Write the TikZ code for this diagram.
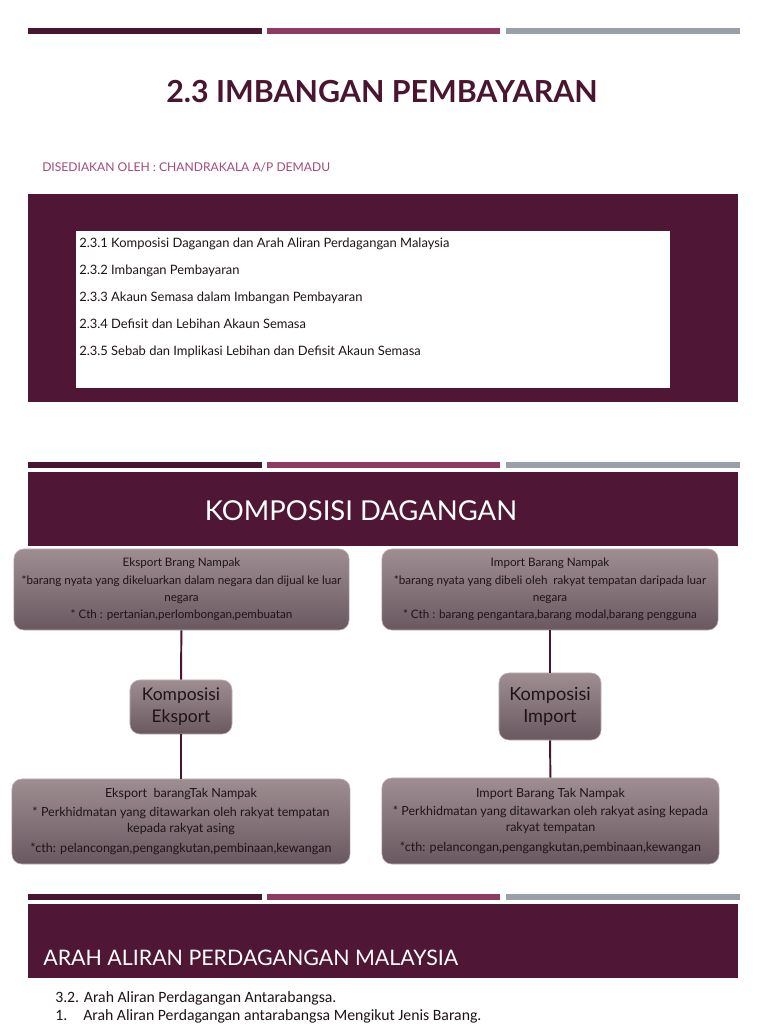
\documentclass[tikz,border=0pt]{standalone}
\usepackage{fontspec}
\setmainfont{Lato}
\newfontfamily\bodyfont{Carlito}
\usetikzlibrary{positioning}
\definecolor{plum}{HTML}{4F1635}
\definecolor{plumdk}{HTML}{4A1530}
\definecolor{rose}{HTML}{8E3A63}
\definecolor{slate}{HTML}{9AA0A8}
\definecolor{pinktext}{HTML}{A54A75}
\definecolor{boxtop}{HTML}{9E8E92}
\definecolor{boxbot}{HTML}{6A5860}
\definecolor{ink}{HTML}{1E1418}

\begin{document}
\begin{tikzpicture}[x=0.025cm, y=-0.025cm,
  bar/.style={line width=3.6pt},
  kbox/.style={rounded corners=7pt, top color=boxtop, bottom color=boxbot,
               draw=boxtop!70!white, line width=0.4pt, text=ink, align=center,
               inner sep=2pt, font=\fontsize{8.3}{12.3}\selectfont},
  link/.style={draw=plumdk, line width=1.4pt}]

\useasboundingbox[fill=white] (0,0) rectangle (768,1024);

% =========== SLIDE 1 ===========
\draw[bar, plumdk] (28,31) -- (262,31);
\draw[bar, rose]   (267,31) -- (500,31);
\draw[bar, slate]  (506,31) -- (740,31);

\node[font=\fontsize{21.6}{24}\selectfont\bfseries, text=plumdk] (title) at (382,92)
  {2.3 IMBANGAN PEMBAYARAN};
\node[anchor=west, font=\fontsize{8.6}{10}\selectfont, text=pinktext, inner sep=0pt] (author)
  at (42,167) {DISEDIAKAN OLEH : CHANDRAKALA A/P DEMADU};

\fill[plum] (28,194) rectangle (738,402);
\fill[white] (76,231) rectangle (670,388);
\node[anchor=north west, align=left, text=ink, inner sep=0pt,
      font=\fontsize{9.2}{19.2}\selectfont] (toc) at (79,238)
  {2.3.1 Komposisi Dagangan dan Arah Aliran Perdagangan Malaysia\\
   2.3.2 Imbangan Pembayaran\\
   2.3.3 Akaun Semasa dalam Imbangan Pembayaran\\
   2.3.4 Defisit dan Lebihan Akaun Semasa\\
   2.3.5 Sebab dan Implikasi Lebihan dan Defisit Akaun Semasa};

% =========== SLIDE 2 ===========
\draw[bar, plumdk] (28,465) -- (262,465);
\draw[bar, rose]   (267,465) -- (500,465);
\draw[bar, slate]  (506,465) -- (740,465);

\fill[plum] (28,472) rectangle (738,546);
\node[font=\fontsize{19.5}{22}\selectfont, text=white] (komp) at (361,511)
  {KOMPOSISI DAGANGAN};

\node[kbox, minimum width=8.375cm, minimum height=2.025cm] (ebn) at (181.5,589.5)
  {Eksport Brang Nampak\\
   *barang nyata yang dikeluarkan dalam negara dan dijual ke luar\\
   negara\\
   * Cth : pertanian,perlombongan,pembuatan};
\node[kbox, minimum width=8.4cm, minimum height=2.025cm] (ibn) at (550,589.5)
  {Import Barang Nampak\\
   *barang nyata yang dibeli oleh \ rakyat tempatan daripada luar\\
   negara\\
   * Cth : barang pengantara,barang modal,barang pengguna};

\node[kbox, minimum width=2.55cm, minimum height=1.35cm,
      font=\fontsize{12.4}{15.5}\selectfont] (keks) at (181,707) {Komposisi\\Eksport};
\node[kbox, minimum width=2.55cm, minimum height=1.675cm,
      font=\fontsize{12.9}{16}\selectfont] (kimp) at (550,706.5) {Komposisi\\Import};

\node[kbox, minimum width=8.45cm, minimum height=2.125cm,
      font=\fontsize{8.9}{11.5}\selectfont] (etn) at (181,821.5)
  {Eksport \ barangTak Nampak\\[1.5pt]
   * Perkhidmatan yang ditawarkan oleh rakyat tempatan\\
   kepada rakyat asing\\[2.5pt]
   *cth: pelancongan,pengangkutan,pembinaan,kewangan};
\node[kbox, minimum width=8.425cm, minimum height=2.15cm,
      font=\fontsize{8.9}{11.5}\selectfont] (itn) at (550.5,821)
  {Import Barang Tak Nampak\\[1.5pt]
   * Perkhidmatan yang ditawarkan oleh rakyat asing kepada\\
   rakyat tempatan\\[2.5pt]
   *cth: pelancongan,pengangkutan,pembinaan,kewangan};

\draw[link] (ebn) -- (keks);
\draw[link] (keks) -- (etn);
\draw[link] (ibn) -- (kimp);
\draw[link] (kimp) -- (itn);

% =========== SLIDE 3 ===========
\draw[bar, plumdk] (28,897) -- (262,897);
\draw[bar, rose]   (267,897) -- (500,897);
\draw[bar, slate]  (506,897) -- (740,897);

\fill[plum] (28,904) rectangle (738,978);
\node[anchor=base west, font=\fontsize{15.2}{17}\selectfont, text=white, inner sep=0pt] (arah)
  at (43,965) {ARAH ALIRAN PERDAGANGAN MALAYSIA};

\node[anchor=base west, font=\bodyfont\fontsize{11.2}{13}\selectfont, text=ink, inner sep=0pt]
  (sub) at (55,1002) {3.2. Arah Aliran Perdagangan Antarabangsa.};
\node[anchor=base west, font=\bodyfont\fontsize{11.2}{13}\selectfont, text=ink, inner sep=0pt]
  (num) at (55,1020) {1.};
\node[anchor=base west, font=\bodyfont\fontsize{11.2}{13}\selectfont, text=ink, inner sep=0pt]
  (item) at (83,1020) {Arah Aliran Perdagangan antarabangsa Mengikut Jenis Barang.};

\end{tikzpicture}
\end{document}
